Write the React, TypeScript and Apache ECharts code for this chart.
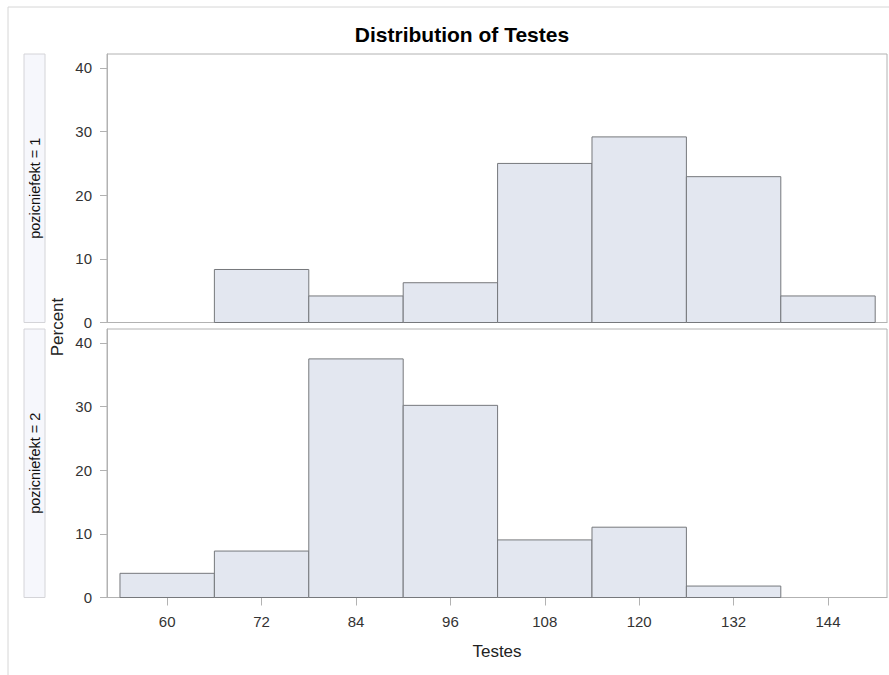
import React, { useEffect, useRef } from "react";
import * as echarts from "echarts";

const binStarts = [54, 66, 78, 90, 102, 114, 126, 138];
const binWidth = 12;
const percentPanel1 = [0, 8.33, 4.17, 6.25, 25.0, 29.17, 22.92, 4.17];
const percentPanel2 = [3.8, 7.3, 37.5, 30.2, 9.05, 11.05, 1.8, 0];
const xTickValues = [60, 72, 84, 96, 108, 120, 132, 144];
const yTickValues = [0, 10, 20, 30, 40];
const panelLabels = ["pozicniefekt = 1", "pozicniefekt = 2"];

const FONT = "'Liberation Sans', Arial, sans-serif";
const BAR_FILL = "#e3e7f0";
const BAR_STROKE = "#76787c";
const FRAME = "#b2b2b2";

function binsToData(values: number[]) {
  return binStarts.map((s, i) => [s, s + binWidth, values[i]]);
}

export default function App() {
  const ref = useRef<HTMLDivElement>(null);
  useEffect(() => {
    if (!ref.current) return;
    const chart = echarts.init(ref.current, null, { renderer: "svg" });
    const gridLeft = 107;
    const gridWidth = 780;
    const grids = [
      { left: gridLeft, top: 54, width: gridWidth, height: 268.5 },
      { left: gridLeft, top: 329, width: gridWidth, height: 268.5 },
    ];
    const renderItem = (params: any, api: any) => {
      const v = api.value(2);
      if (!v) return null;
      const p0 = api.coord([api.value(0), 0]);
      const p1 = api.coord([api.value(1), v]);
      return {
        type: "rect",
        shape: { x: p0[0], y: p1[1], width: p1[0] - p0[0], height: p0[1] - p1[1] },
        style: { fill: BAR_FILL, stroke: BAR_STROKE, lineWidth: 1 },
      };
    };
    const xAxisBase = {
      type: "value",
      min: 52.35,
      max: 151.5,
      splitLine: { show: false },
      axisLine: { show: true, lineStyle: { color: FRAME } },
    };
    const yAxisBase = {
      type: "value",
      min: 0,
      max: 42.2,
      splitLine: { show: false },
      axisLine: { show: true, lineStyle: { color: FRAME } },
      axisTick: { show: true, length: 7, lineStyle: { color: FRAME }, customValues: yTickValues },
      axisLabel: {
        customValues: yTickValues,
        margin: 15,
        color: "#333",
        fontSize: 15,
        fontFamily: FONT,
      },
    };
    const panelStrips: any[] = [];
    grids.forEach((g, i) => {
      panelStrips.push({
        type: "rect",
        shape: { x: 24, y: g.top, width: 21, height: g.height },
        style: { fill: "#f6f7fc", stroke: "#d4d4d8", lineWidth: 1 },
      });
      panelStrips.push({
        type: "text",
        x: 35,
        y: g.top + g.height / 2,
        rotation: Math.PI / 2,
        style: {
          text: panelLabels[i],
          fill: "#111",
          font: `14.5px ${FONT}`,
          align: "center",
          verticalAlign: "middle",
        },
      });
    });
    chart.setOption({
      animation: false,
      backgroundColor: "#fff",
      title: {
        text: "Distribution of Testes",
        left: 457,
        top: 19,
        textAlign: "center",
        textStyle: { fontSize: 21, fontWeight: "bold", color: "#000", fontFamily: FONT },
      },
      grid: grids.map((g) => ({ ...g, show: true, borderColor: FRAME, borderWidth: 1, backgroundColor: "transparent" })),
      xAxis: [
        {
          ...xAxisBase,
          gridIndex: 0,
          axisTick: { show: false },
          axisLabel: { show: false },
        },
        {
          ...xAxisBase,
          gridIndex: 1,
          name: "Testes",
          nameLocation: "middle",
          nameGap: 45,
          nameTextStyle: { fontSize: 17, color: "#222", fontFamily: FONT },
          axisTick: { show: true, length: 8, lineStyle: { color: FRAME }, customValues: xTickValues },
          axisLabel: {
            customValues: xTickValues,
            margin: 16,
            color: "#333",
            fontSize: 15,
            fontFamily: FONT,
          },
        },
      ],
      yAxis: [
        { ...yAxisBase, gridIndex: 0 },
        { ...yAxisBase, gridIndex: 1 },
      ],
      series: [
        {
          type: "custom",
          xAxisIndex: 0,
          yAxisIndex: 0,
          renderItem,
          encode: { x: [0, 1], y: 2 },
          data: binsToData(percentPanel1),
        },
        {
          type: "custom",
          xAxisIndex: 1,
          yAxisIndex: 1,
          renderItem,
          encode: { x: [0, 1], y: 2 },
          data: binsToData(percentPanel2),
        },
      ],
      graphic: [
        {
          type: "rect",
          silent: true,
          shape: { x: 8, y: 7, width: 900, height: 700 },
          style: { fill: "none", stroke: "#d6d6d6", lineWidth: 1 },
        },
        ...panelStrips,
        {
          type: "text",
          x: 57,
          y: 327,
          rotation: Math.PI / 2,
          style: {
            text: "Percent",
            fill: "#222",
            font: `17px ${FONT}`,
            align: "center",
            verticalAlign: "middle",
          },
        },
      ],
    });
    return () => chart.dispose();
  }, []);
  return (
    <div
      ref={ref}
      style={{ position: "fixed", left: 0, top: 0, width: 889, height: 675 }}
    />
  );
}
